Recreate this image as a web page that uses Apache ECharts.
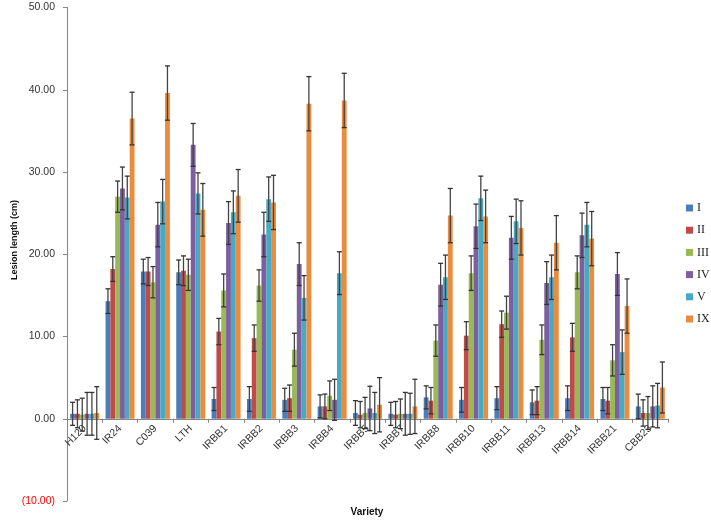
<!DOCTYPE html>
<html><head><meta charset="utf-8">
<script src="https://cdn.jsdelivr.net/npm/echarts@6/dist/echarts.min.js"></script>
<style>html,body{margin:0;padding:0;background:#fff}#c{width:711px;height:520px}</style>
</head><body><div id="c"></div>
<script>
const categories = ['H120','IR24','C039','LTH','IRBB1','IRBB2','IRBB3','IRBB4','IRBB5','IRBB7','IRBB8','IRBB10','IRBB11','IRBB13','IRBB14','IRBB21','CBB23'];
const seriesNames = ['I','II','III','IV','V','IX'];
const valI   = [0.6,14.3,17.9,17.8,2.4,2.4,2.3,1.5,0.7,0.6,2.6,2.3,2.5,2.0,2.5,2.4,1.5];
const valII  = [0.6,18.2,17.9,18.0,10.6,9.8,2.5,1.5,0.5,0.5,2.2,10.1,11.5,2.2,9.9,2.2,0.7];
const valIII = [0.5,27.0,16.6,17.5,15.6,16.2,8.4,2.8,0.7,0.6,9.5,17.7,12.9,9.6,17.8,7.1,0.7];
const valIV  = [0.6,28.0,23.6,33.3,23.8,22.4,18.8,2.3,1.25,0.6,16.3,23.4,22.0,16.5,22.3,17.6,1.5];
const valV   = [0.6,26.9,26.4,27.4,25.1,26.7,14.7,17.7,0.7,0.6,17.2,26.8,24.0,17.2,23.6,8.1,1.6];
const valIX  = [0.7,36.5,39.6,25.4,27.1,26.3,38.3,38.7,1.7,1.5,24.7,24.6,23.2,21.4,21.9,13.7,3.8];
const errI   = [1.4,1.5,1.5,1.5,1.4,1.5,1.4,1.4,1.5,1.4,1.4,1.5,1.4,1.5,1.5,1.4,1.5];
const errII  = [1.7,1.5,1.7,1.8,1.6,1.6,1.6,1.5,1.6,1.6,1.6,1.7,1.6,1.7,1.7,1.6,1.6];
const errIII = [2.0,1.9,1.9,1.9,2.0,1.9,2.0,1.8,1.9,1.8,1.9,2.1,2.0,1.8,2.0,1.9,2.0];
const errIV  = [2.6,2.6,2.7,2.6,2.6,2.7,2.6,2.5,2.7,2.6,2.6,2.7,2.6,2.6,2.7,2.6,2.5];
const errV   = [2.6,2.6,2.7,2.5,2.6,2.7,2.7,2.6,2.5,2.5,2.7,2.7,2.7,2.7,2.7,2.7,2.7];
const errIX  = [3.2,3.2,3.3,3.2,3.2,3.3,3.3,3.3,3.3,3.3,3.3,3.2,3.3,3.3,3.3,3.3,3.1];
const yTicks = [-10,0,10,20,30,40,50];

const values = [valI,valII,valIII,valIV,valV,valIX];
const errors = [errI,errII,errIII,errIV,errV,errIX];
const colors = ['#4A7EBB','#BE4B48','#98B954','#7D5FA0','#46AAC5','#EB8B3E'];
const nS = seriesNames.length;
const catGap = 0.18;
const gridTop = 7.5, gridBottomY = 501;
const yMin = yTicks[0], yMax = yTicks[yTicks.length-1];
const zeroOffset = (gridBottomY-gridTop)*(0-yMin)/(yMax-yMin);

const series = [];
seriesNames.forEach((n,i)=>{
  series.push({name:n,type:'bar',data:values[i],barGap:'0%',barCategoryGap:(catGap*100)+'%',
    itemStyle:{color:colors[i]},z:2});
});
seriesNames.forEach((n,i)=>{
  series.push({name:'err'+n,type:'custom',z:5,
    data:values[i].map((v,k)=>[k,v,errors[i][k]]),
    renderItem:function(params,api){
      const k=api.value(0),v=api.value(1),e=api.value(2);
      const band=api.size([1,0])[0];
      const gw=band*(1-catGap);
      const bw=gw/nS;
      const c=api.coord([k,v]);
      const x=c[0]-gw/2+bw*(i+0.5);
      const yt=api.coord([k,v+e])[1];
      const yb=api.coord([k,v-e])[1];
      const cw=2.5;
      const st={stroke:'#333',lineWidth:1.3};
      return {type:'group',children:[
        {type:'line',shape:{x1:x,y1:yt,x2:x,y2:yb},style:{stroke:'#444',lineWidth:1.3}},
        {type:'line',shape:{x1:x-cw,y1:yt,x2:x+cw,y2:yt},style:st},
        {type:'line',shape:{x1:x-cw,y1:yb,x2:x+cw,y2:yb},style:st}
      ]};
    }});
});

const chart = echarts.init(document.getElementById('c'),null,{renderer:'canvas'});
chart.setOption({
  animation:false,
  grid:{left:67,right:43,top:gridTop,bottom:520-gridBottomY,containLabel:false,outerBoundsMode:'none'},
  legend:{data:seriesNames,orient:'vertical',left:686,top:202,itemWidth:7,itemHeight:7,itemGap:10.2,
    icon:'rect',padding:0,textStyle:{fontFamily:'Liberation Serif',fontSize:12,color:'#222',padding:[0,0,0,-1]}},
  xAxis:{type:'category',data:categories,
    offset:-zeroOffset,
    axisLine:{onZero:false,lineStyle:{color:'#868686'}},
    axisTick:{show:true,length:4,lineStyle:{color:'#868686'}},
    axisLabel:{rotate:45,fontSize:10.5,color:'#333',margin:8,interval:0,fontFamily:'Liberation Sans'}},
  yAxis:{type:'value',min:yMin,max:yMax,interval:10,
    splitLine:{show:false},
    axisLine:{show:true,lineStyle:{color:'#868686'}},
    axisTick:{show:true,length:4,lineStyle:{color:'#868686'}},
    axisLabel:{fontSize:10.5,fontFamily:'Liberation Sans',margin:12,
      formatter:v=>v<0?'('+Math.abs(v).toFixed(2)+')':v.toFixed(2),
      color:v=>v<0?'#FF0000':'#333'}},
  graphic:[
    {type:'text',x:15,y:240,rotation:Math.PI/2,
      style:{text:'Lesion length (cm)',font:'bold 9px "Liberation Sans Narrow", "Liberation Sans"',fill:'#111',textAlign:'center',textVerticalAlign:'middle'}},
    {type:'text',x:367,y:512,
      style:{text:'Variety',font:'bold 10px Liberation Sans',fill:'#111',textAlign:'center',textVerticalAlign:'middle'}}
  ],
  series:series
});
</script></body></html>
